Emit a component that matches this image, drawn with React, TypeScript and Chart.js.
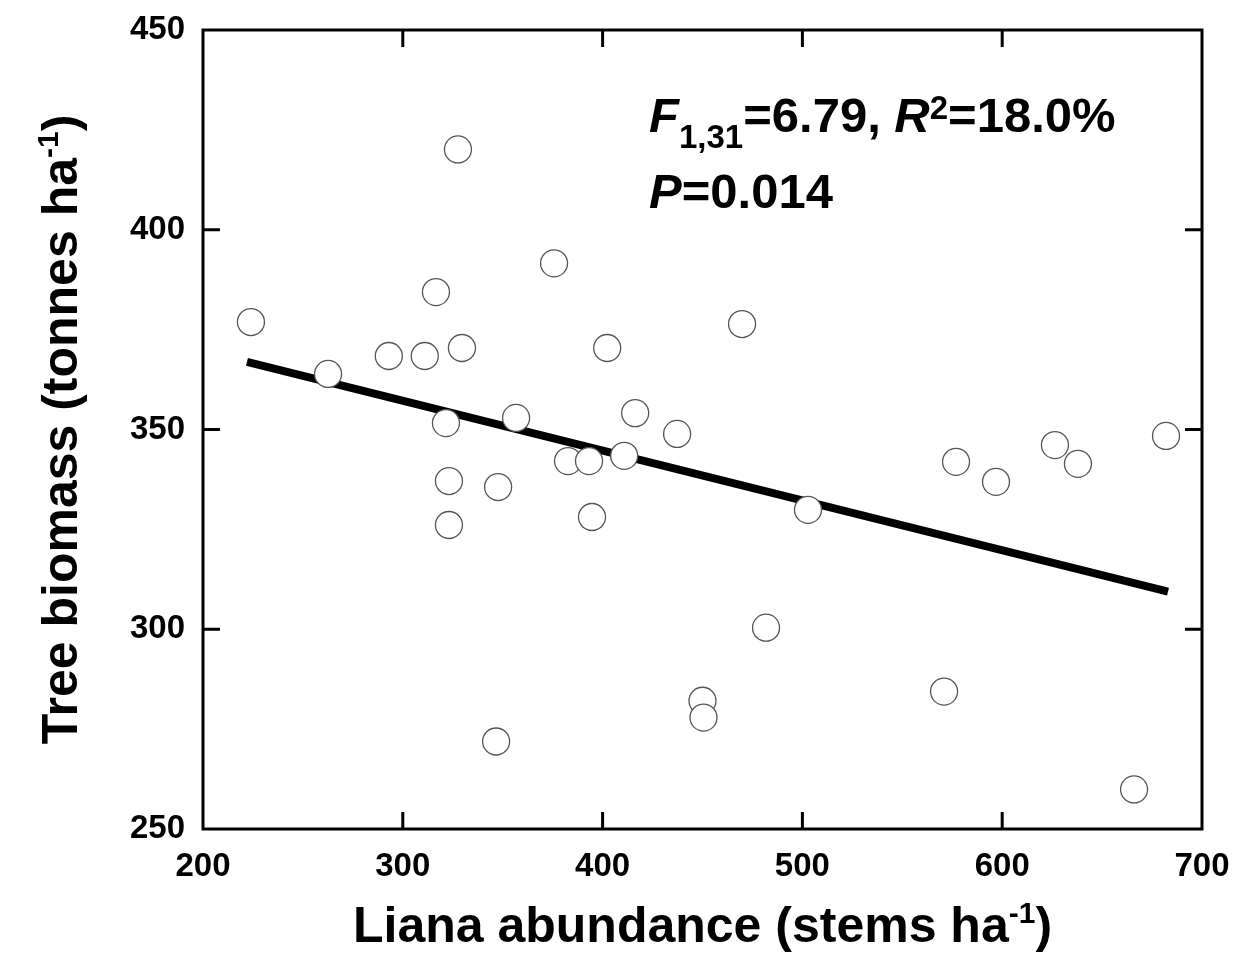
import React, { useEffect, useRef } from "react";
import { Chart, registerables } from "chart.js";

Chart.register(...registerables);

// ---- Data ----
const lianaAbundance = [
  224, 262.6, 293, 311, 316.6, 327.6, 329.6, 321.6, 323.1, 323.1, 347.7,
  346.7, 356.7, 375.7, 382.7, 393.2, 394.7, 402.3, 410.8, 416.3, 437.3,
  469.8, 450, 450.5, 481.8, 502.8, 570.9, 576.9, 596.9, 626.4, 637.9, 682, 666,
];
const treeBiomass = [
  376.9, 363.9, 368.4, 368.4, 384.4, 420.1, 370.4, 351.6, 337.1, 326.1, 335.6,
  271.9, 352.9, 391.6, 342.1, 342.1, 328.1, 370.4, 343.4, 354.1, 348.9,
  376.4, 282.1, 277.9, 300.4, 329.9, 284.4, 341.9, 336.9, 346.1, 341.4, 348.4, 259.9,
];
const fitLineX = [222, 683];
const fitLineY = [366.9, 309.4];
const xTickValues = [200, 300, 400, 500, 600, 700];
const yTickValues = [250, 300, 350, 400, 450];

const xTitleMain = "Liana abundance (stems ha";
const xTitleSup = "-1";
const xTitleEnd = ")";
const yTitleMain = "Tree biomass (tonnes ha";
const yTitleSup = "-1";
const yTitleEnd = ")";

const FONT = '"Liberation Sans", Arial, sans-serif';

type Seg = { t: string; f: string; dy: number };

function drawSegs(ctx: CanvasRenderingContext2D, segs: Seg[], x: number, y: number) {
  let cx = x;
  for (const s of segs) {
    ctx.font = s.f;
    ctx.fillText(s.t, cx, y + s.dy);
    cx += ctx.measureText(s.t).width;
  }
}
function segsWidth(ctx: CanvasRenderingContext2D, segs: Seg[]) {
  let w = 0;
  for (const s of segs) {
    ctx.font = s.f;
    w += ctx.measureText(s.t).width;
  }
  return w;
}

const framePlugin = {
  id: "frameAndText",
  afterDraw(chart: any) {
    const ctx: CanvasRenderingContext2D = chart.ctx;
    const { left, right, top, bottom } = chart.chartArea;
    const xs = chart.scales.x;
    const ys = chart.scales.y;
    ctx.save();
    ctx.strokeStyle = "#000";
    ctx.lineWidth = 3;
    ctx.strokeRect(left, top, right - left, bottom - top);
    const tl = 17;
    ctx.beginPath();
    for (const v of xTickValues) {
      const px = xs.getPixelForValue(v);
      if (Math.abs(px - left) < 2 || Math.abs(px - right) < 2) continue;
      ctx.moveTo(px, bottom);
      ctx.lineTo(px, bottom - tl);
      ctx.moveTo(px, top);
      ctx.lineTo(px, top + tl);
    }
    for (const v of yTickValues) {
      const py = ys.getPixelForValue(v);
      if (Math.abs(py - top) < 2 || Math.abs(py - bottom) < 2) continue;
      ctx.moveTo(left, py);
      ctx.lineTo(left + tl, py);
      ctx.moveTo(right, py);
      ctx.lineTo(right - tl, py);
    }
    ctx.stroke();

    ctx.fillStyle = "#000";
    ctx.textBaseline = "alphabetic";
    ctx.textAlign = "left";

    // Statistics annotation
    const big = `bold 49px ${FONT}`;
    const bigI = `italic bold 49px ${FONT}`;
    const small = `bold 33px ${FONT}`;
    drawSegs(
      ctx,
      [
        { t: "F", f: bigI, dy: 0 },
        { t: "1,31", f: small, dy: 16 },
        { t: "=6.79, ", f: big, dy: 0 },
        { t: "R", f: bigI, dy: 0 },
        { t: "2", f: small, dy: -13 },
        { t: "=18.0%", f: big, dy: 0 },
      ],
      649,
      132
    );
    drawSegs(
      ctx,
      [
        { t: "P", f: bigI, dy: 0 },
        { t: "=0.014", f: big, dy: 0 },
      ],
      649,
      208
    );

    // Axis titles
    const tFont = `bold 50px ${FONT}`;
    const sFont = `bold 30px ${FONT}`;
    const xSegs: Seg[] = [
      { t: xTitleMain, f: tFont, dy: 0 },
      { t: xTitleSup, f: sFont, dy: -19 },
      { t: xTitleEnd, f: tFont, dy: 0 },
    ];
    const cx = (left + right) / 2;
    const xw = segsWidth(ctx, xSegs);
    drawSegs(ctx, xSegs, cx - xw / 2, 942);

    const ySegs: Seg[] = [
      { t: yTitleMain, f: tFont, dy: 0 },
      { t: yTitleSup, f: sFont, dy: -19 },
      { t: yTitleEnd, f: tFont, dy: 0 },
    ];
    const yw = segsWidth(ctx, ySegs);
    ctx.translate(77, (top + bottom) / 2);
    ctx.rotate(-Math.PI / 2);
    drawSegs(ctx, ySegs, -yw / 2, 0);
    ctx.restore();
  },
};

export default function App() {
  const ref = useRef<HTMLCanvasElement | null>(null);
  useEffect(() => {
    if (!ref.current) return;
    const points = lianaAbundance.map((x, i) => ({ x, y: treeBiomass[i] }));
    const fit = fitLineX.map((x, i) => ({ x, y: fitLineY[i] }));
    const tickFont = { family: FONT, size: 33, weight: "bold" as const };
    const chart = new Chart(ref.current, {
      type: "scatter",
      data: {
        datasets: [
          {
            type: "scatter",
            label: "Plots",
            data: points,
            order: 0,
            pointRadius: 13.5,
            pointHoverRadius: 13.5,
            backgroundColor: "#ffffff",
            borderColor: "#555555",
            borderWidth: 1.3,
          },
          {
            type: "line",
            label: "Fit",
            data: fit,
            order: 1,
            borderColor: "#000000",
            borderWidth: 8,
            pointRadius: 0,
            borderCapStyle: "butt",
            fill: false,
          } as any,
        ],
      },
      options: {
        responsive: false,
        animation: false,
        devicePixelRatio: 1,
        layout: { padding: { top: 30, right: 42, left: 0, bottom: 0 } },
        plugins: {
          legend: { display: false },
          tooltip: { enabled: false },
        },
        scales: {
          x: {
            type: "linear",
            min: 200,
            max: 700,
            afterBuildTicks: (s: any) => {
              s.ticks = xTickValues.map((v) => ({ value: v }));
            },
            afterFit: (s: any) => {
              s.height = 134;
              s.paddingLeft = 0;
              s.paddingRight = 0;
            },
            grid: { display: false, drawTicks: false },
            border: { display: false },
            ticks: { color: "#000", font: tickFont, padding: 18, maxRotation: 0 },
          },
          y: {
            type: "linear",
            min: 250,
            max: 450,
            afterBuildTicks: (s: any) => {
              s.ticks = yTickValues.map((v) => ({ value: v }));
            },
            afterFit: (s: any) => {
              s.width = 203;
              s.paddingTop = 0;
              s.paddingBottom = 0;
            },
            grid: { display: false, drawTicks: false },
            border: { display: false },
            ticks: { color: "#000", font: tickFont, padding: 18 },
          },
        },
      },
      plugins: [framePlugin],
    });
    return () => chart.destroy();
  }, []);
  return (
    <div style={{ position: "fixed", left: 0, top: 0, width: 1244, height: 963, background: "#fff" }}>
      <canvas ref={ref} width={1244} height={963} style={{ display: "block" }} />
    </div>
  );
}
